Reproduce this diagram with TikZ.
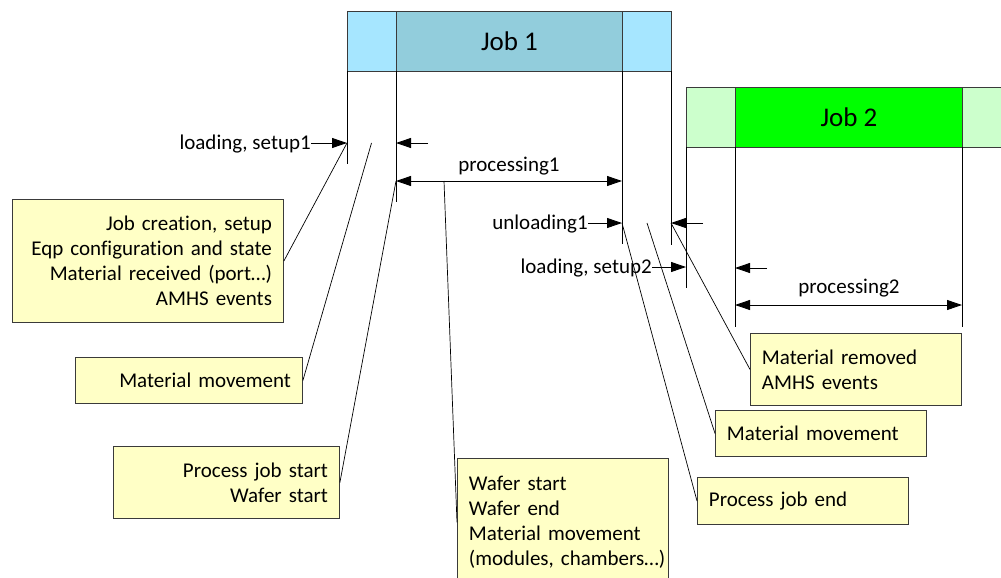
\documentclass[tikz,border=0pt]{standalone}
\usepackage{fontspec}
\setmainfont{Carlito}[Ligatures=NoCommon]
\usetikzlibrary{arrows.meta}
\definecolor{jobonelight}{HTML}{A6E6FF}
\definecolor{jobonedark}{HTML}{92CDDC}
\definecolor{jobtwolight}{HTML}{CCFFCC}
\definecolor{jobtwodark}{HTML}{00FF00}
\definecolor{notefill}{HTML}{FFFFC6}
\definecolor{edgegray}{HTML}{3A3A3A}

\begin{document}
\begin{tikzpicture}[x=1pt,y=-1pt,
  every node/.style={font=\fontsize{21}{25}\selectfont},
  bar/.style={draw=edgegray, line width=0.9pt, minimum height=60pt,
    inner sep=0pt, anchor=north west},
  jobtext/.style={font=\fontsize{27}{32}\selectfont},
  tick/.style={line width=0.9pt},
  arr/.style={-{Triangle[length=15pt,width=10pt]}, line width=0.9pt},
  span/.style={{Triangle[length=15pt,width=10pt]}-{Triangle[length=15pt,width=10pt]}, line width=0.9pt},
  leader/.style={line width=0.7pt},
  lbl/.style={inner sep=0pt},
  note/.style={draw=edgegray, fill=notefill, line width=0.9pt,
    inner xsep=11.5pt, inner ysep=0pt, anchor=north west}
]
\useasboundingbox (0,0) rectangle (1001,578);
\clip (0,0) rectangle (1001,578);

% ---- Job 1 bar ----
\node[bar, fill=jobonelight, minimum width=324pt] (j1bar) at (347,11) {};
\node[bar, fill=jobonedark, minimum width=226pt, jobtext] (j1) at (396,11) {Job 1};

% ---- Job 2 bar ----
\node[bar, fill=jobtwolight, minimum width=325pt] (j2bar) at (686,87) {};
\node[bar, fill=jobtwodark, minimum width=227pt, jobtext] (j2) at (735,87) {Job 2};

% ---- phase boundaries of job 1 ----
\coordinate (t1) at (347,164);
\coordinate (t2) at (396,202);
\coordinate (t3) at (622,244);
\coordinate (t4) at (671,245);
\draw[tick] (347,71) -- (t1);
\draw[tick] (396,71) -- (t2);
\draw[tick] (622,71) -- (t3);
\draw[tick] (671,71) -- (t4);

% ---- phase boundaries of job 2 ----
\coordinate (s1) at (686,288);
\coordinate (s2) at (735,327);
\coordinate (s3) at (962,327);
\draw[tick] (686,147) -- (s1);
\draw[tick] (735,147) -- (s2);
\draw[tick] (962,147) -- (s3);

% ---- reference points on the time lines ----
\coordinate (a1) at (347,143);
\coordinate (a2) at (396,143);
\coordinate (a2s) at (428,143);
\coordinate (m1) at (371.5,143);
\coordinate (p1a) at (396,181);
\coordinate (p1b) at (622,181);
\coordinate (w1) at (444,181);
\coordinate (u1) at (622,223);
\coordinate (u2) at (671,223);
\coordinate (u2s) at (703,223);
\coordinate (m2) at (647,223);
\coordinate (l2) at (686,267);
\coordinate (b2) at (735,268);
\coordinate (b2s) at (767,268);
\coordinate (p2a) at (735,305);
\coordinate (p2b) at (962,305);

% ---- durations ----
\node[lbl, anchor=east] (ls1) at (311,144) {loading, setup1};
\draw[arr] (ls1.east |- a1) -- (a1);
\draw[arr] (a2s) -- (a2);
\node[anchor=base] (pr1) at (509,171) {processing1};
\draw[span] (p1a) -- (p1b);

\node[lbl, anchor=east] (ul1) at (588,224) {unloading1};
\draw[arr] (ul1.east |- u1) -- (u1);
\draw[arr] (u2s) -- (u2);
\node[lbl, anchor=east] (ls2) at (652,268) {loading, setup2};
\draw[arr] (ls2.east |- l2) -- (l2);
\draw[arr] (b2s) -- (b2);
\node[anchor=base] (pr2) at (849,293) {processing2};
\draw[span] (p2a) -- (p2b);

% ---- event notes ----
\node[note, text width=248pt, align=right, minimum height=123pt] (n1) at (12,199)
  {\vphantom{Jg}Job creation, setup\\Eqp configuration and state\\Material received (port…)\\AMHS events};
\node[note, text width=204pt, align=right, minimum height=46pt] (n2) at (75,357)
  {Material movement};
\node[note, text width=203pt, align=right, minimum height=72pt] (n3) at (113,446)
  {Process job start\\Wafer start};
\node[note, text width=188pt, align=left, minimum height=128pt] (n4) at (457,458)
  {Wafer start\\Wafer end\\Material movement\\\mbox{(modules, chambers…)}};
\node[note, text width=188pt, align=left, minimum height=72pt] (n5) at (750,333)
  {Material removed\\AMHS events};
\node[note, text width=188pt, align=left, minimum height=46pt] (n6) at (715,410)
  {Material movement};
\node[note, text width=188pt, align=left, minimum height=47pt] (n7) at (697,477)
  {Process job end};

% ---- leaders from notes to the time lines ----
\draw[leader] (a1) -- (n1.east);
\draw[leader] (m1) -- (n2.east);
\draw[leader] (p1a) -- (n3.east);
\draw[leader] (w1) -- (n4.west);
\draw[leader] (u2) -- (n5.west);
\draw[leader] (m2) -- (n6.west);
\draw[leader] (u1) -- (n7.west);
\end{tikzpicture}
\end{document}
